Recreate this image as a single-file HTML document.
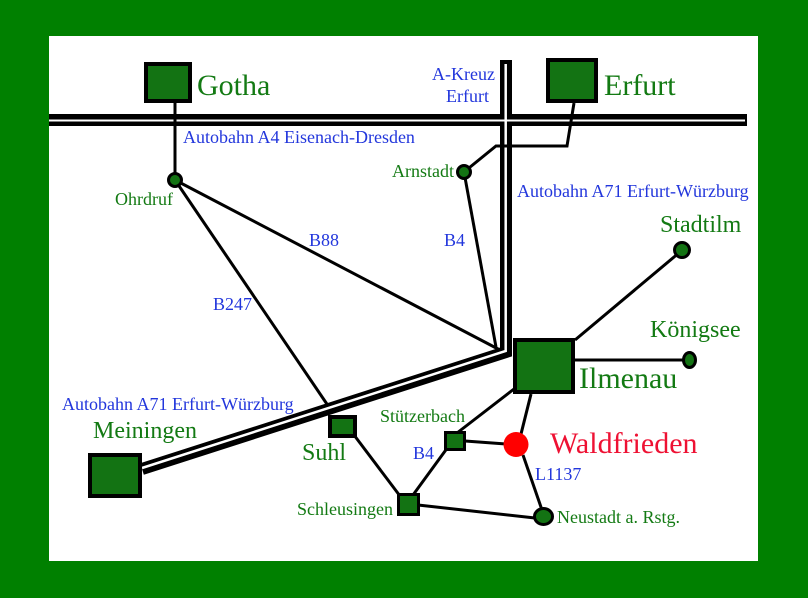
<!DOCTYPE html>
<html><head><meta charset="utf-8"><style>
html,body{margin:0;padding:0;background:#008000;}
svg{display:block;}
text{font-family:"Liberation Serif",serif;}
.g{fill:#137a13;}
.b{fill:#2236dc;}
.s{font-size:18px;}
.l{font-size:30px;}
.m{font-size:24px;}
</style></head><body>
<svg width="808" height="598" viewBox="0 0 808 598" xmlns="http://www.w3.org/2000/svg">
<rect x="0" y="0" width="808" height="598" fill="#008000"/>
<rect x="49" y="36" width="709" height="525" fill="#ffffff"/>

<!-- thin roads -->
<g stroke="#000" stroke-width="3" fill="none">
<line x1="175" y1="180" x2="500" y2="350"/>
<line x1="175" y1="180" x2="333" y2="413"/>
<line x1="464" y1="172" x2="496" y2="347"/>
<line x1="575" y1="340" x2="680" y2="252"/>
<line x1="575" y1="360" x2="686" y2="360"/>
<line x1="514" y1="389" x2="457" y2="433"/>
<line x1="531" y1="394" x2="521" y2="434"/>
<line x1="465" y1="441" x2="506" y2="444"/>
<line x1="523" y1="455" x2="542" y2="510"/>
<line x1="418" y1="505" x2="535" y2="518"/>
<line x1="448" y1="447" x2="413" y2="495"/>
<line x1="354" y1="435" x2="400" y2="496"/>
</g>

<!-- motorways black -->
<rect x="49" y="114" width="698" height="12" fill="#000"/>
<polyline points="506,60 506,352 142,469" stroke="#000" stroke-width="12" fill="none" stroke-linejoin="miter"/>
<!-- motorways white center -->
<rect x="49" y="119.5" width="696" height="2" fill="#fff"/>
<polyline points="505.7,64 505.7,351 142,468" stroke="#fff" stroke-width="2.5" fill="none" stroke-linejoin="miter"/>

<!-- connectors crossing A4 -->
<g stroke="#000" stroke-width="3" fill="none">
<line x1="175" y1="103" x2="175" y2="180"/>
<polyline points="574,103 567,146 496,146 464,172"/>
</g>

<!-- boxes -->
<g fill="#137313" stroke="#000" stroke-width="4">
<rect x="146" y="64" width="44" height="37"/>
<rect x="548" y="60" width="48" height="41"/>
<rect x="515" y="340" width="58" height="52"/>
<rect x="90" y="455" width="50" height="41"/>
<rect x="330" y="417" width="25" height="19"/>
</g>
<g fill="#137313" stroke="#000" stroke-width="3">
<rect x="445.5" y="432.5" width="19" height="17"/>
<rect x="398.5" y="494.5" width="20" height="20"/>
</g>

<!-- circles -->
<g fill="#137313" stroke="#000" stroke-width="3">
<circle cx="175" cy="180" r="6.5"/>
<circle cx="464" cy="172" r="6.5"/>
<circle cx="682" cy="250" r="7.5"/>
<ellipse cx="689.5" cy="360" rx="6" ry="7.5"/>
<ellipse cx="543.5" cy="516.5" rx="9" ry="8"/>
</g>
<circle cx="516" cy="444.5" r="12.5" fill="#ff0000"/>

<!-- labels -->
<text x="197" y="95" class="g l">Gotha</text>
<text x="604" y="95" class="g l">Erfurt</text>
<text x="579" y="388" class="g l">Ilmenau</text>
<text x="550" y="453" class="l" fill="#ee1133">Waldfrieden</text>
<text x="660" y="232" class="g m">Stadtilm</text>
<text x="650" y="337" class="g m">Königsee</text>
<text x="93" y="438" class="g m">Meiningen</text>
<text x="302" y="460" class="g m">Suhl</text>

<text x="183" y="143" class="b s">Autobahn A4 Eisenach-Dresden</text>
<text x="432" y="80" class="b s">A-Kreuz</text>
<text x="446" y="102" class="b s">Erfurt</text>
<text x="517" y="197" class="b s">Autobahn A71 Erfurt-Würzburg</text>
<text x="62" y="410" class="b s">Autobahn A71 Erfurt-Würzburg</text>
<text x="309" y="246" class="b s">B88</text>
<text x="444" y="246" class="b s">B4</text>
<text x="213" y="310" class="b s">B247</text>
<text x="413" y="459" class="b s">B4</text>
<text x="535" y="480" class="b s">L1137</text>

<text x="454" y="177" class="g s" text-anchor="end">Arnstadt</text>
<text x="115" y="205" class="g s">Ohrdruf</text>
<text x="380" y="422" class="g s">Stützerbach</text>
<text x="297" y="515" class="g s">Schleusingen</text>
<text x="557" y="523" class="g s">Neustadt a. Rstg.</text>
</svg>
</body></html>
